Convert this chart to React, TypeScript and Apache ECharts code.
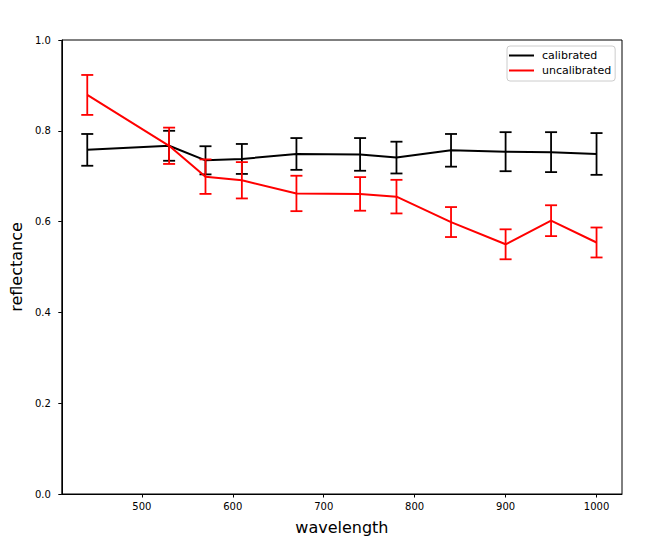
import React, { useEffect, useRef } from "react";
import * as echarts from "echarts";

const wavelengths = [440, 530, 570, 610, 670, 740, 780, 840, 900, 950, 1000];
const calibrated = [0.758, 0.767, 0.735, 0.738, 0.749, 0.748, 0.741, 0.757, 0.754, 0.753, 0.749];
const calibratedErr = [0.035, 0.033, 0.031, 0.033, 0.035, 0.036, 0.035, 0.036, 0.043, 0.044, 0.046];
const uncalibrated = [0.879, 0.767, 0.699, 0.691, 0.662, 0.661, 0.655, 0.599, 0.55, 0.602, 0.554];
const uncalibratedErr = [0.044, 0.04, 0.038, 0.04, 0.039, 0.037, 0.037, 0.033, 0.033, 0.034, 0.033];
const xTicks = [500, 600, 700, 800, 900, 1000];
const seriesNames = ["calibrated", "uncalibrated"];
const colors = ["#000000", "#ff0000"];

const FONT = "DejaVu Sans";

function errorSeries(name: string, vals: number[], errs: number[], color: string) {
  return {
    name,
    type: "custom",
    data: wavelengths.map((x, i) => [x, vals[i] - errs[i], vals[i] + errs[i]]),
    renderItem: (params: any, api: any) => {
      const x = api.value(0);
      const lo = api.coord([x, api.value(1)]);
      const hi = api.coord([x, api.value(2)]);
      const cap = 6;
      const style = { stroke: color, lineWidth: 1.8, fill: "none" };
      return {
        type: "group",
        children: [
          { type: "line", shape: { x1: lo[0], y1: lo[1], x2: hi[0], y2: hi[1] }, style },
          { type: "line", shape: { x1: lo[0] - cap, y1: lo[1], x2: lo[0] + cap, y2: lo[1] }, style },
          { type: "line", shape: { x1: hi[0] - cap, y1: hi[1], x2: hi[0] + cap, y2: hi[1] }, style },
        ],
      };
    },
    silent: true,
  };
}

export default function App() {
  const ref = useRef<HTMLDivElement>(null);
  useEffect(() => {
    if (!ref.current) return;
    const chart = echarts.init(ref.current, undefined, { renderer: "svg" });
    const option: any = {
      animation: false,
      backgroundColor: "#ffffff",
      textStyle: { fontFamily: FONT, color: "#000" },
      grid: {
        left: 60,
        top: 40,
        right: 37,
        bottom: 49,
        show: true,
        borderColor: "#000",
        borderWidth: 1,
        backgroundColor: "transparent",
      },
      legend: {
        data: seriesNames,
        orient: "vertical",
        left: 507,
        top: 46,
        icon: "rect",
        itemWidth: 25,
        itemHeight: 2,
        itemGap: 2,
        padding: [3, 4, 4, 2],
        borderColor: "#cccccc",
        borderWidth: 1,
        borderRadius: 3,
        backgroundColor: "rgba(255,255,255,0.8)",
        textStyle: { fontFamily: FONT, fontSize: 11, color: "#000", padding: [0, 0, 0, 3], lineHeight: 13 },
      },
      xAxis: {
        type: "value",
        min: 412,
        max: 1028,
        name: "wavelength",
        nameLocation: "middle",
        nameGap: 25,
        nameTextStyle: { fontFamily: FONT, fontSize: 16, color: "#000" },
        axisLine: { show: true, onZero: false, lineStyle: { color: "#000", width: 1 } },
        axisTick: { show: true, inside: false, length: 3.5, customValues: xTicks, lineStyle: { color: "#000", width: 1 } },
        axisLabel: {
          customValues: xTicks,
          fontFamily: FONT,
          fontSize: 10,
          color: "#000",
          margin: 7,
          formatter: (v: number) => String(v),
        },
        splitLine: { show: false },
      },
      yAxis: {
        type: "value",
        min: 0,
        max: 1,
        interval: 0.2,
        name: "reflectance",
        nameLocation: "middle",
        nameGap: 34,
        nameRotate: 90,
        nameTextStyle: { fontFamily: FONT, fontSize: 16, color: "#000" },
        axisLine: { show: true, onZero: false, lineStyle: { color: "#000", width: 1 } },
        axisTick: { show: true, inside: false, length: 3.5, lineStyle: { color: "#000", width: 1 } },
        axisLabel: {
          fontFamily: FONT,
          fontSize: 10,
          color: "#000",
          margin: 11,
          formatter: (v: number) => v.toFixed(1),
        },
        splitLine: { show: false },
      },
      series: [
        {
          name: seriesNames[0],
          type: "line",
          data: wavelengths.map((x, i) => [x, calibrated[i]]),
          symbol: "none",
          lineStyle: { color: colors[0], width: 2 },
          itemStyle: { color: colors[0] },
          z: 2,
        },
        { ...errorSeries(seriesNames[0], calibrated, calibratedErr, colors[0]), z: 3 },
        {
          name: seriesNames[1],
          type: "line",
          data: wavelengths.map((x, i) => [x, uncalibrated[i]]),
          symbol: "none",
          lineStyle: { color: colors[1], width: 2 },
          itemStyle: { color: colors[1] },
          z: 4,
        },
        { ...errorSeries(seriesNames[1], uncalibrated, uncalibratedErr, colors[1]), z: 5 },
      ],
    };
    chart.setOption(option);
    return () => chart.dispose();
  }, []);
  return (
    <div
      ref={ref}
      style={{ position: "absolute", left: 0, top: 0, width: 659, height: 543 }}
    />
  );
}
